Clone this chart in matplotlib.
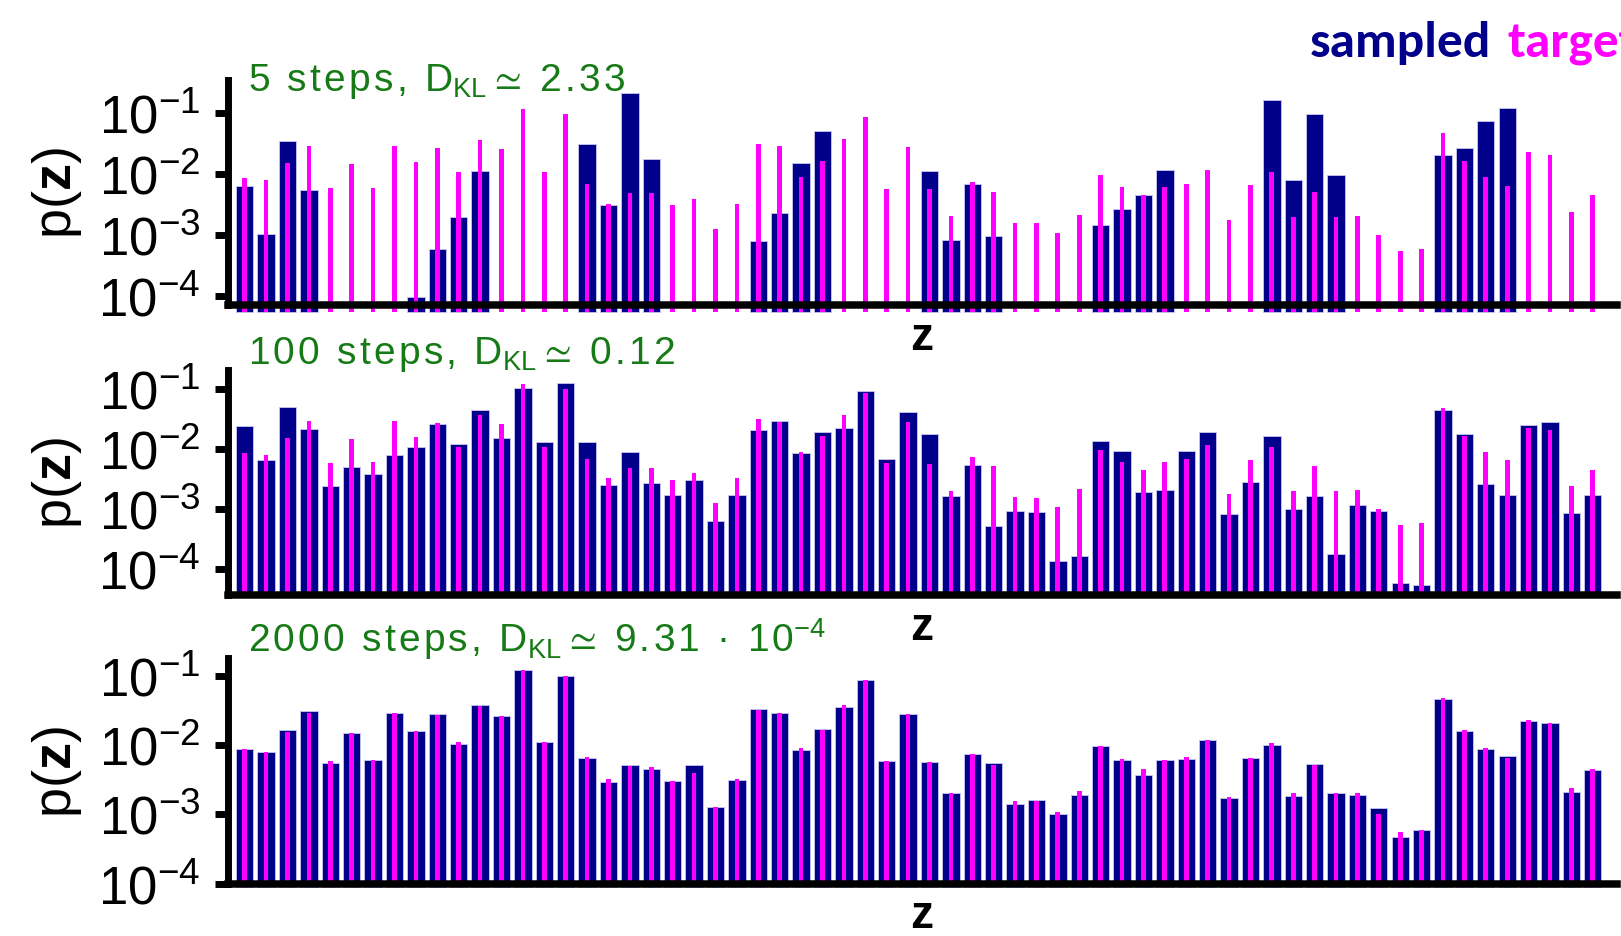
import numpy as np
import matplotlib
matplotlib.use("Agg")
import matplotlib.pyplot as plt
from matplotlib.ticker import FixedLocator, FuncFormatter, NullLocator

plt.rcParams["font.family"] = ["Liberation Sans", "DejaVu Sans"]
plt.rcParams["mathtext.default"] = "regular"
plt.rcParams["mathtext.fontset"] = "custom"
plt.rcParams["mathtext.rm"] = "Liberation Sans"
plt.rcParams["mathtext.bf"] = "Liberation Sans:bold"

# target distribution over the 64 states z
target = [
    0.00867, 0.00804, 0.0155, 0.0293, 0.00585, 0.0147, 0.00597, 0.0290,
    0.0158, 0.0271, 0.0110, 0.0365, 0.0262, 0.119, 0.0109, 0.0989,
    0.00681, 0.00324, 0.00490, 0.00480, 0.00306, 0.00394, 0.00127, 0.00327,
    0.0316, 0.0286, 0.00906, 0.0164, 0.0372, 0.0857, 0.00578, 0.0277,
    0.00571, 0.00202, 0.00743, 0.00513, 0.00157, 0.00155, 0.00108, 0.00213,
    0.00957, 0.00617, 0.00449, 0.00611, 0.00675, 0.0117, 0.00179, 0.00659,
    0.0107, 0.00200, 0.00513, 0.00200, 0.00204, 0.00100, 0.000547, 0.000590,
    0.0480, 0.0164, 0.00906, 0.00646, 0.0228, 0.0208, 0.00240, 0.00454,
]

# sampled distributions after 5, 100 and 2000 steps (0 = never sampled)
sampled_5 = [
    0.00640, 0.00102, 0.0354, 0.00542, 0, 0, 0, 0,
    0.0000964, 0.000583, 0.00199, 0.0113, 0, 0, 0, 0,
    0.0312, 0.00315, 0.214, 0.0179, 0, 0, 0, 0,
    0.000780, 0.00229, 0.0151, 0.0511, 0, 0, 0, 0,
    0.0113, 0.000820, 0.00698, 0.000968, 0, 0, 0, 0,
    0.00145, 0.00267, 0.00454, 0.0116, 0, 0, 0, 0,
    0.168, 0.00804, 0.0975, 0.00984, 0, 0, 0, 0,
    0.0205, 0.0264, 0.0738, 0.121, 0, 0, 0, 0,
]
sampled_100 = [
    0.0245, 0.00664, 0.0501, 0.0215, 0.00245, 0.00508, 0.00388, 0.00805,
    0.0107, 0.0261, 0.0120, 0.0447, 0.0152, 0.103, 0.0131, 0.128,
    0.0129, 0.00255, 0.00904, 0.00271, 0.00169, 0.00308, 0.000622, 0.00169,
    0.0210, 0.0296, 0.00869, 0.0192, 0.0227, 0.0914, 0.00690, 0.0408,
    0.0180, 0.00167, 0.00535, 0.000527, 0.000938, 0.000879, 0.000134, 0.000167,
    0.0138, 0.00927, 0.00195, 0.00210, 0.00927, 0.0195, 0.000826, 0.00278,
    0.0167, 0.00101, 0.00163, 0.000178, 0.00118, 0.000927, 0.0000592, 0.0000541,
    0.0447, 0.0178, 0.00258, 0.00169, 0.0251, 0.0282, 0.000847, 0.00169,
]
sampled_2000 = [
    0.00867, 0.00804, 0.0167, 0.0309, 0.00553, 0.0150, 0.00597, 0.0290,
    0.0158, 0.0277, 0.0103, 0.0381, 0.0262, 0.119, 0.0112, 0.0989,
    0.00659, 0.00293, 0.00507, 0.00449, 0.00299, 0.00518, 0.00129, 0.00313,
    0.0327, 0.0286, 0.00857, 0.0171, 0.0356, 0.0857, 0.00578, 0.0277,
    0.00571, 0.00202, 0.00743, 0.00547, 0.00142, 0.00160, 0.00100, 0.00189,
    0.00957, 0.00597, 0.00372, 0.00611, 0.00631, 0.0117, 0.00171, 0.00659,
    0.0101, 0.00185, 0.00536, 0.00200, 0.00191, 0.00124, 0.000465, 0.000590,
    0.0465, 0.0157, 0.00887, 0.00697, 0.0220, 0.0208, 0.00208, 0.00440,
]

steps = ["5", "100", "2000"]
dkl = ["2.33", "0.12", "9.31 · 10"]
dkl_exp = ["", "", "-4"]
y_ticks = [1e-1, 1e-2, 1e-3, 1e-4]


def spaced(s):
    # the original text is set with wide letter spacing
    return "\u200a".join(s)


def title_for(k):
    txt = spaced(steps[k] + " steps, D") + r"$_\mathregular{KL}\simeq$ " + spaced(dkl[k])
    if dkl_exp[k]:
        txt += r"$^\mathregular{%s}$" % dkl_exp[k]
    return txt


W, H = 1621, 937
fig = plt.figure(figsize=(W / 100, H / 100), dpi=100)

navy = "#00008b"
pink = "#ff00ff"
green = "#167a16"

# pixel layout: (top, bottom) of each panel, log10 y-range, how far bars poke below axis
panels = [
    (80.7, 306.0, (-4.153, -0.447), 7),
    (370.7, 595.5, (-4.425, -0.678), 0),
    (659.3, 884.5, (-4.0, -0.749), 3),
]
title_base = [91, 364, 652]
left_px, right_px = 227.5, 1617.0
z = np.arange(len(target))
t = np.array(target)

for k, sampled in enumerate([sampled_5, sampled_100, sampled_2000]):
    top, bot, (lo, hi), poke = panels[k]
    ax = fig.add_axes([left_px / W, 1 - bot / H, (right_px - left_px) / W, (bot - top) / H])
    ax.set_yscale("log")
    ax.set_ylim(10**lo, 10**hi)
    ax.set_xlim(-0.804, 64.13)
    decade = (bot - top) / (hi - lo)
    base = 10 ** (lo - poke / decade) if poke else 10 ** (lo - 1)
    clip = poke == 0

    s = np.array(sampled)
    m = s > 0
    ax.bar(z[m], s[m] - base, bottom=base, width=0.81, color=navy,
           edgecolor="#c8c8ee", linewidth=0.6, clip_on=clip, zorder=2)
    ax.bar(z, t - base, bottom=base, width=0.22, color=pink,
           linewidth=0, clip_on=clip, zorder=3)

    for side in ["top", "right"]:
        ax.spines[side].set_visible(False)
    ax.spines["left"].set_linewidth(5)
    ax.spines["bottom"].set_linewidth(5.4)
    ax.spines["bottom"].set_zorder(5)
    ax.spines["left"].set_zorder(5)

    ax.set_xticks([])
    ax.yaxis.set_major_locator(FixedLocator(y_ticks))
    ax.yaxis.set_minor_locator(NullLocator())
    ax.yaxis.set_major_formatter(FuncFormatter(lambda v, _: r"$10^{%d}$" % round(np.log10(v))))
    ax.tick_params(axis="y", which="major", length=9.7, width=5, direction="out",
                   labelsize=38, pad=10)

    fig.text(248 / W, 1 - title_base[k] / H, title_for(k), color=green,
             fontsize=28, ha="left", va="baseline")
    fig.text(57 / W, 1 - (top + bot) / 2 / H, r"p($\mathbf{z}$)", fontsize=39,
             rotation=90, ha="center", va="center")
    fig.text(922 / W, 1 - (bot + 44) / H, "z", fontsize=33, fontweight="bold",
             ha="center", va="baseline")

fig.text(1310 / W, 1 - 57 / H, "sampled", color=navy, fontsize=37, fontweight="bold",
         family=["Carlito", "Open Sans", "DejaVu Sans"], ha="left", va="baseline")
fig.text(1508 / W, 1 - 57 / H, "target", color=pink, fontsize=37, fontweight="bold",
         family=["Carlito", "Open Sans", "DejaVu Sans"], ha="left", va="baseline")

fig.savefig("out.png", dpi=100)
